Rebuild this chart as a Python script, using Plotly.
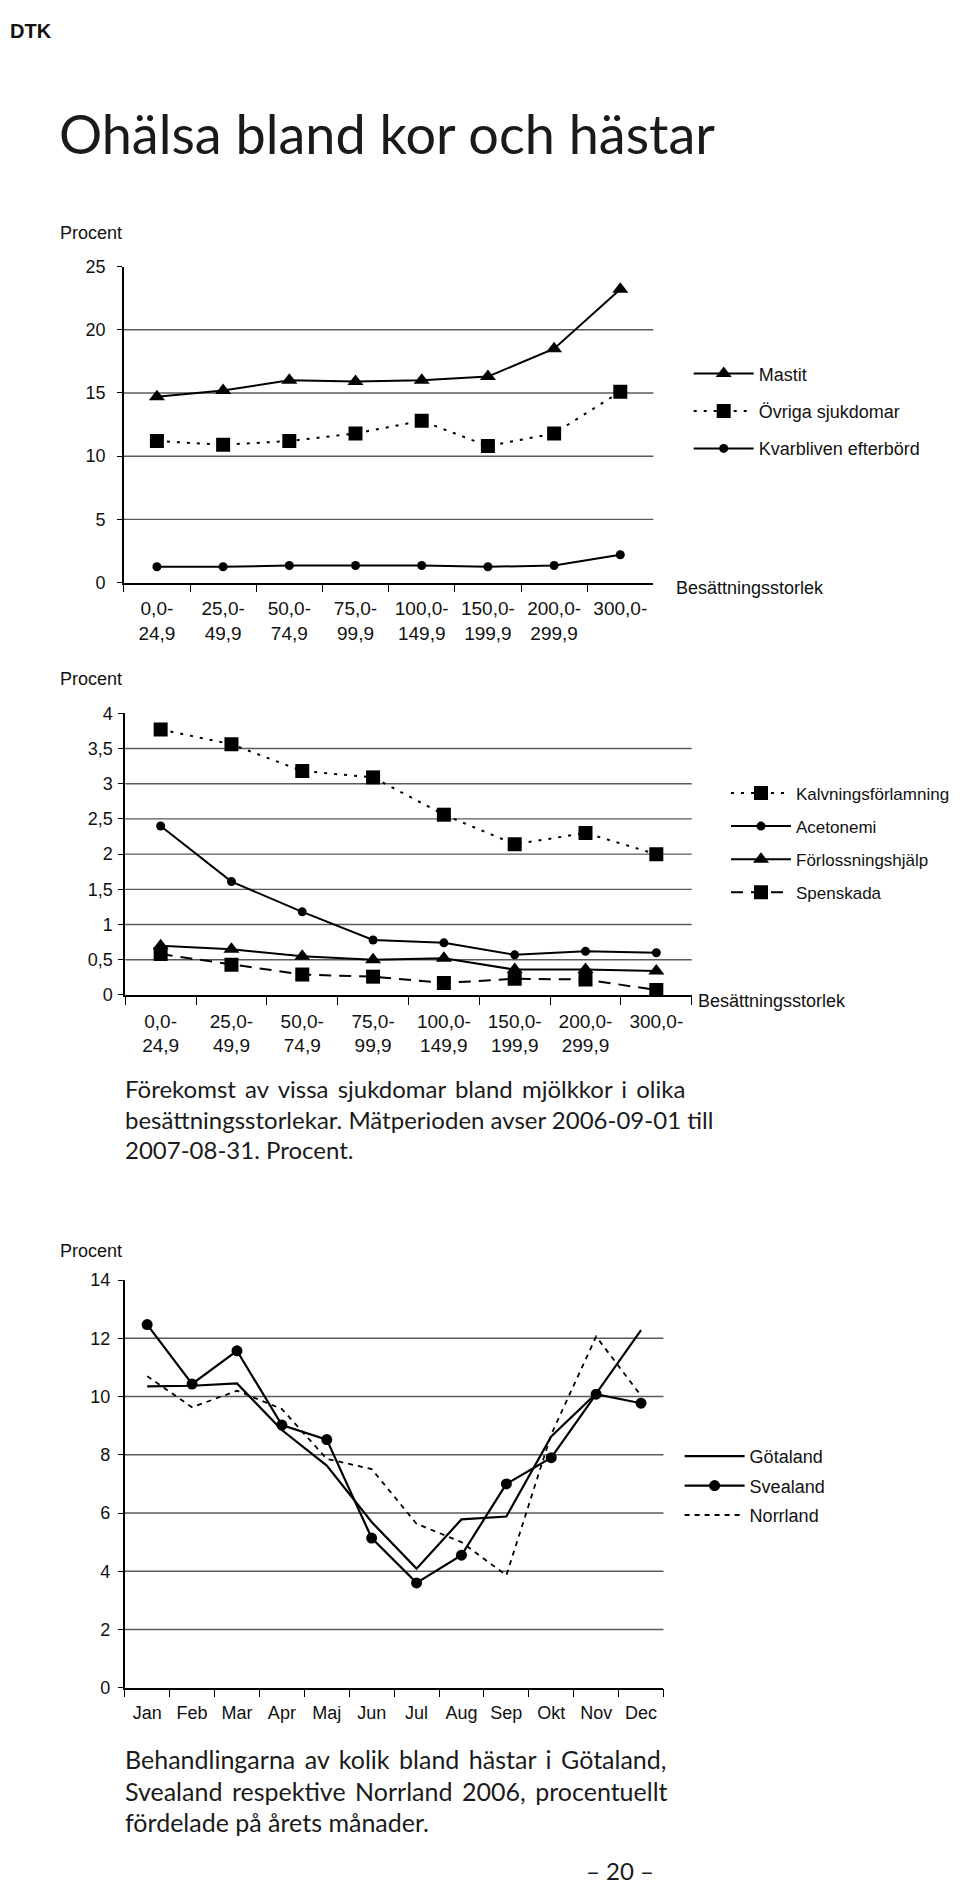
import plotly.graph_objects as go

W, H = 960, 1884
# the page is photographed with the browser's body margin included;
# these constants map picture pixels to figure pixels
KX, OX = 960 / 968, 8
KY, OY = 1884 / 1900, 16

# ---------------- data ----------------
size_cats = ["0,0-<br>24,9", "25,0-<br>49,9", "50,0-<br>74,9", "75,0-<br>99,9",
             "100,0-<br>149,9", "150,0-<br>199,9", "200,0-<br>299,9", "300,0-"]

mastit = [14.7, 15.2, 16.0, 15.9, 16.0, 16.3, 18.5, 23.2]
ovriga = [11.2, 10.9, 11.2, 11.8, 12.8, 10.8, 11.8, 15.1]
kvarbliven = [1.25, 1.25, 1.35, 1.35, 1.35, 1.25, 1.35, 2.2]

kalvning = [3.77, 3.56, 3.18, 3.09, 2.56, 2.14, 2.30, 2.0]
acetonemi = [2.40, 1.61, 1.18, 0.78, 0.74, 0.57, 0.62, 0.60]
forlossning = [0.70, 0.65, 0.55, 0.50, 0.52, 0.36, 0.36, 0.34]
spenskada = [0.58, 0.43, 0.29, 0.26, 0.17, 0.23, 0.22, 0.07]

months = ["Jan", "Feb", "Mar", "Apr", "Maj", "Jun", "Jul", "Aug", "Sep", "Okt", "Nov", "Dec"]
gotaland = [10.35, 10.37, 10.45, 8.85, 7.63, 5.69, 4.09, 5.78, 5.88, 8.63, 10.1, 12.28]
svealand = [12.47, 10.43, 11.57, 9.02, 8.52, 5.14, 3.6, 4.55, 7.0, 7.9, 10.08, 9.77]
norrland = [10.7, 9.63, 10.2, 9.57, 7.86, 7.51, 5.63, 5.0, 3.86, 8.7, 12.06, 10.03]

y1_ticks = [0, 5, 10, 15, 20, 25]
y1_text = ["0", "5", "10", "15", "20", "25"]
y2_ticks = [0, 0.5, 1, 1.5, 2, 2.5, 3, 3.5, 4]
y2_text = ["0", "0,5", "1", "1,5", "2", "2,5", "3", "3,5", "4"]
y3_ticks = [0, 2, 4, 6, 8, 10, 12, 14]
y3_text = ["0", "2", "4", "6", "8", "10", "12", "14"]


# ---------------- helpers (picture pixel -> paper) ----------------
def px(x):
    return (x / KX - OX) / W


def py(y):
    return 1 - (y / KY - OY) / H


SANS = "Liberation Sans, Arial, sans-serif"
AXFONT = dict(family=SANS, size=18, color="#111")
XFONT = dict(family=SANS, size=19, color="#111")
CAPFONT1 = dict(family="Lato, Open Sans, sans-serif", size=24, color="#1a1a1a")
CAPFONT2 = dict(family="Lato, Open Sans, sans-serif", size=25, color="#1a1a1a")
GRID = "#5a5a5a"

fig = go.Figure()

# chart 1
fig.add_trace(go.Scatter(x=size_cats, y=mastit, name="Mastit", mode="lines+markers",
                         line=dict(color="black", width=2),
                         marker=dict(symbol="triangle-up", size=14, color="black"),
                         xaxis="x", yaxis="y", legend="legend", legendgroup="a1"))
fig.add_trace(go.Scatter(x=size_cats, y=ovriga, name="Övriga sjukdomar", mode="lines+markers",
                         line=dict(color="black", width=2, dash="3px,7px"),
                         marker=dict(symbol="square", size=14, color="black"),
                         xaxis="x", yaxis="y", legend="legend", legendgroup="a2"))
fig.add_trace(go.Scatter(x=size_cats, y=kvarbliven, name="Kvarbliven efterbörd", mode="lines+markers",
                         line=dict(color="black", width=2),
                         marker=dict(symbol="circle", size=9, color="black"),
                         xaxis="x", yaxis="y", legend="legend", legendgroup="a3"))

# chart 2
fig.add_trace(go.Scatter(x=size_cats, y=kalvning, name="Kalvningsförlamning", mode="lines+markers",
                         line=dict(color="black", width=2, dash="3px,7px"),
                         marker=dict(symbol="square", size=14, color="black"),
                         xaxis="x2", yaxis="y2", legend="legend2", legendgroup="b1"))
fig.add_trace(go.Scatter(x=size_cats, y=acetonemi, name="Acetonemi", mode="lines+markers",
                         line=dict(color="black", width=2),
                         marker=dict(symbol="circle", size=9, color="black"),
                         xaxis="x2", yaxis="y2", legend="legend2", legendgroup="b2"))
fig.add_trace(go.Scatter(x=size_cats, y=forlossning, name="Förlossningshjälp", mode="lines+markers",
                         line=dict(color="black", width=2),
                         marker=dict(symbol="triangle-up", size=14, color="black"),
                         xaxis="x2", yaxis="y2", legend="legend2", legendgroup="b3"))
fig.add_trace(go.Scatter(x=size_cats, y=spenskada, name="Spenskada", mode="lines+markers",
                         line=dict(color="black", width=2, dash="12px,8px"),
                         marker=dict(symbol="square", size=14, color="black"),
                         xaxis="x2", yaxis="y2", legend="legend2", legendgroup="b4"))

# chart 3
fig.add_trace(go.Scatter(x=months, y=gotaland, name="Götaland", mode="lines",
                         line=dict(color="black", width=2.2),
                         xaxis="x3", yaxis="y3", legend="legend3", legendgroup="c1"))
fig.add_trace(go.Scatter(x=months, y=svealand, name="Svealand", mode="lines+markers",
                         line=dict(color="black", width=2.2),
                         marker=dict(symbol="circle", size=11, color="black"),
                         xaxis="x3", yaxis="y3", legend="legend3", legendgroup="c2"))
fig.add_trace(go.Scatter(x=months, y=norrland, name="Norrland", mode="lines",
                         line=dict(color="black", width=1.8, dash="5px,5px"),
                         xaxis="x3", yaxis="y3", legend="legend3", legendgroup="c3"))


def xax(domain, ncat, anchor, font, standoff):
    return dict(domain=domain, anchor=anchor, type="category", range=[-0.5, ncat - 0.5],
                showline=True, linecolor="black", linewidth=1.5, ticks="outside",
                ticklen=8, tickwidth=1.3, tickcolor="black", tickson="boundaries",
                showgrid=False, zeroline=False, tickfont=font, fixedrange=True,
                ticklabelstandoff=standoff)


def yax(domain, rng, tv, tt, anchor, standoff):
    return dict(domain=domain, anchor=anchor, range=rng, tickvals=tv, ticktext=tt,
                showline=True, linecolor="black", linewidth=1.5, ticks="outside",
                ticklen=5, tickwidth=1.3, tickcolor="black", showgrid=False,
                zeroline=False, tickfont=AXFONT, fixedrange=True,
                ticklabelstandoff=standoff)


shapes = []
for ref, ticks in (("", y1_ticks), ("2", y2_ticks), ("3", y3_ticks)):
    for v in ticks[1:-1]:
        shapes.append(dict(type="line", xref=f"x{ref} domain", yref=f"y{ref}",
                           x0=0, x1=1, y0=v, y1=v, layer="below",
                           line=dict(color=GRID, width=1.4)))


def legend_at(x, ytop, gap, size=18):
    return dict(x=px(x), y=py(ytop), xanchor="left", yanchor="top",
                bgcolor="rgba(0,0,0,0)", font=dict(family=SANS, size=size, color="#111"),
                itemwidth=60, traceorder="grouped", tracegroupgap=gap, itemclick=False)


annotations = []


def text(x, y, s, font, xanchor="left", yanchor="middle"):
    annotations.append(dict(x=px(x), y=py(y), xref="paper", yref="paper", text=s,
                            showarrow=False, xanchor=xanchor, yanchor=yanchor, font=font))


def justify(line, extra):
    # widen each word gap a little, to imitate the justified lines of the page
    return (" " + extra).join(line.split(" "))


text(OX * KX, OY * KY, "<b>DTK</b>", dict(family=SANS, size=20, color="#111"), yanchor="top")
text(56.5, 132, "Ohälsa bland kor och hästar", dict(family="Lato, sans-serif", size=54, color="#1a1a1a"))
for yy in (231, 678, 1252):
    text(58, yy, "Procent", AXFONT)
text(668, 587, "Besättningsstorlek", AXFONT)
text(690, 1001, "Besättningsstorlek", AXFONT)

TS = "&#8201;"  # thin space
HS = "&#8202;"  # hair space
cap1 = [justify("Förekomst av vissa sjukdomar bland mjölkkor i olika", TS),
        "besättningsstorlekar. Mätperioden avser 2006-09-01 till",
        "2007-08-31. Procent."]
for i, s in enumerate(cap1):
    text(122, 1089 + i * 30.5, s, CAPFONT1)
cap2 = [justify("Behandlingarna av kolik bland hästar i Götaland,", HS + HS),
        justify("Svealand respektive Norrland 2006, procentuellt", TS),
        "fördelade på årets månader."]
for i, s in enumerate(cap2):
    text(122, 1761 + i * 31.5, s, CAPFONT2)
text(615, 1872, "– 20 –", dict(family="Lato, sans-serif", size=24, color="#1a1a1a"), xanchor="center")

fig.update_layout(
    width=W, height=H, margin=dict(l=0, r=0, t=0, b=0),
    paper_bgcolor="white", plot_bgcolor="white", showlegend=True,
    xaxis=xax([px(122.8), px(648)], 8, "y", XFONT, 8),
    yaxis=yax([py(581.7), py(265)], [0, 25], y1_ticks, y1_text, "x", 8),
    xaxis2=xax([px(124.2), px(686)], 8, "y2", XFONT, 8),
    yaxis2=yax([py(995), py(712.7)], [0, 4], y2_ticks, y2_text, "x2", 2),
    xaxis3=xax([px(123.7), px(658)], 12, "y3", AXFONT, 8),
    yaxis3=yax([py(1689.3), py(1280.7)], [0, 14], y3_ticks, y3_text, "x3", 4),
    legend=legend_at(683, 354, 11),
    legend2=legend_at(720, 775, 8, size=17),
    legend3=legend_at(674, 1439, 3),
    shapes=shapes, annotations=annotations,
)

fig.write_html("out.html")
